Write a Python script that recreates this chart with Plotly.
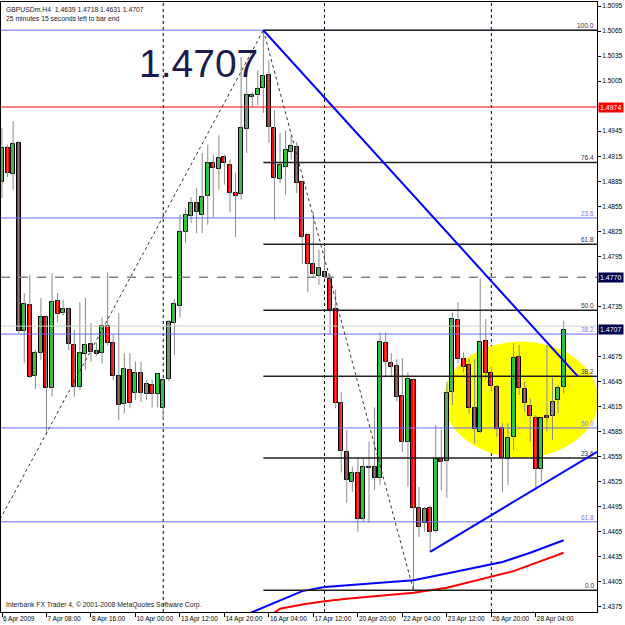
import plotly.graph_objects as go

# ---------------- data ----------------
OPEN = [1.4884, 1.4925, 1.4894, 1.4931, 1.4706, 1.4737, 1.4652, 1.4679, 1.4722, 1.4637,
        1.4742, 1.4727, 1.4732, 1.4689, 1.4639, 1.4678, 1.4690, 1.4682, 1.4679, 1.4712,
        1.4691, 1.4652, 1.4618, 1.4659, 1.4631, 1.4655, 1.4630, 1.4641, 1.4630, 1.4613,
        1.4648, 1.4715, 1.4736, 1.4824, 1.4843, 1.4859, 1.4845, 1.4867, 1.4907, 1.4900,
        1.4914, 1.4904, 1.4871, 1.4870, 1.4948, 1.4986, 1.4988, 1.4997, 1.5012, 1.4949,
        1.4888, 1.4902, 1.4920, 1.4926, 1.4884, 1.4821, 1.4786, 1.4772, 1.4776, 1.4768,
        1.4732, 1.4619, 1.4561, 1.4525, 1.4536, 1.4480, 1.4542, 1.4543, 1.4530, 1.4691,
        1.4667, 1.4664, 1.4628, 1.4573, 1.4647, 1.4494, 1.4476, 1.4494, 1.4466, 1.4552,
        1.4550, 1.4633, 1.4719, 1.4672, 1.4665, 1.4613, 1.4585, 1.4694, 1.4655, 1.4639,
        1.4589, 1.4552, 1.4579, 1.4675, 1.4636, 1.4616, 1.4602, 1.4540, 1.4604, 1.4604,
        1.4623, 1.4639]
CLOSE = [1.4925, 1.4895, 1.4930, 1.4706, 1.4738, 1.4650, 1.4679, 1.4722, 1.4637, 1.4740,
         1.4726, 1.4732, 1.4690, 1.4639, 1.4679, 1.4689, 1.4680, 1.4678, 1.4712, 1.4691,
         1.4652, 1.4617, 1.4660, 1.4619, 1.4655, 1.4631, 1.4642, 1.4630, 1.4654, 1.4647,
         1.4716, 1.4738, 1.4824, 1.4845, 1.4859, 1.4848, 1.4866, 1.4907, 1.4901, 1.4913,
         1.4907, 1.4871, 1.4867, 1.4949, 1.4988, 1.4988, 1.4996, 1.5011, 1.4950, 1.4889,
         1.4904, 1.4923, 1.4927, 1.4883, 1.4818, 1.4786, 1.4774, 1.4781, 1.4770, 1.4731,
         1.4619, 1.4562, 1.4527, 1.4536, 1.4480, 1.4543, 1.4543, 1.4530, 1.4692, 1.4669,
         1.4663, 1.4627, 1.4573, 1.4648, 1.4494, 1.4471, 1.4492, 1.4465, 1.4552, 1.4549,
         1.4631, 1.4720, 1.4672, 1.4663, 1.4613, 1.4588, 1.4692, 1.4655, 1.4640, 1.4588,
         1.4554, 1.4577, 1.4673, 1.4637, 1.4619, 1.4604, 1.4540, 1.4601, 1.4602, 1.4621,
         1.4637, 1.4707]
HIGH = [1.4949, 1.4929, 1.4957, 1.4933, 1.4751, 1.4773, 1.4683, 1.4745, 1.4725, 1.4775,
        1.4751, 1.4743, 1.4733, 1.4707, 1.4740, 1.4745, 1.4715, 1.4692, 1.4722, 1.4776,
        1.4701, 1.4727, 1.4679, 1.4679, 1.4669, 1.4669, 1.4647, 1.4647, 1.4655, 1.4649,
        1.4719, 1.4744, 1.4845, 1.4853, 1.4866, 1.4877, 1.4919, 1.4929, 1.4917, 1.4940,
        1.4917, 1.4911, 1.4895, 1.5034, 1.5018, 1.4992, 1.5018, 1.5066, 1.5030, 1.4970,
        1.4943, 1.4946, 1.4940, 1.4932, 1.4886, 1.4823, 1.4848, 1.4803, 1.4806, 1.4775,
        1.4755, 1.4633, 1.4587, 1.4543, 1.4554, 1.4554, 1.4573, 1.4614, 1.4704, 1.4704,
        1.4679, 1.4672, 1.4673, 1.4656, 1.4649, 1.4519, 1.4495, 1.4497, 1.4593, 1.4587,
        1.4645, 1.4728, 1.4740, 1.4680, 1.4673, 1.4672, 1.4769, 1.4720, 1.4663, 1.4641,
        1.4595, 1.4595, 1.4691, 1.4689, 1.4645, 1.4625, 1.4605, 1.4602, 1.4689, 1.4650,
        1.4641, 1.4718]
LOW = [1.4865, 1.4890, 1.4875, 1.4703, 1.4667, 1.4649, 1.4636, 1.4671, 1.4581, 1.4627,
       1.4716, 1.4724, 1.4683, 1.4627, 1.4635, 1.4659, 1.4669, 1.4676, 1.4667, 1.4688,
       1.4647, 1.4599, 1.4607, 1.4613, 1.4623, 1.4621, 1.4623, 1.4614, 1.4614, 1.4599,
       1.4645, 1.4677, 1.4722, 1.4811, 1.4835, 1.4823, 1.4823, 1.4833, 1.4842, 1.4875,
       1.4881, 1.4848, 1.4818, 1.4863, 1.4919, 1.4974, 1.4976, 1.4967, 1.4931, 1.4839,
       1.4883, 1.4869, 1.4911, 1.4871, 1.4786, 1.4752, 1.4769, 1.4761, 1.4767, 1.4701,
       1.4613, 1.4536, 1.4500, 1.4513, 1.4465, 1.4477, 1.4476, 1.4515, 1.4521, 1.4650,
       1.4650, 1.4621, 1.4561, 1.4519, 1.4395, 1.4459, 1.4465, 1.4441, 1.4464, 1.4515,
       1.4506, 1.4617, 1.4667, 1.4656, 1.4607, 1.4571, 1.4583, 1.4648, 1.4633, 1.4579,
       1.4513, 1.4521, 1.4563, 1.4629, 1.4609, 1.4573, 1.4515, 1.4525, 1.4585, 1.4575,
       1.4607, 1.4631]
BARS = list(range(len(OPEN)))

TIME_TICK_BARS = [0, 8, 16, 24, 32, 40, 48, 56, 64, 72, 80, 88, 96]
TIME_TICK_LABELS = ["6 Apr 2009", "7 Apr 08:00", "8 Apr 16:00", "10 Apr 00:00", "13 Apr 12:00",
                    "14 Apr 20:00", "16 Apr 04:00", "17 Apr 12:00", "20 Apr 20:00", "22 Apr 04:00",
                    "23 Apr 12:00", "26 Apr 20:00", "28 Apr 04:00"]
WEEK_SEPARATOR_BARS = [29, 58, 88]

PRICE_TICKS = [1.5095, 1.5065, 1.5035, 1.5005, 1.4975, 1.4945, 1.4915, 1.4885, 1.4855,
               1.4825, 1.4795, 1.4765, 1.4735, 1.4705, 1.4675, 1.4645, 1.4615, 1.4585,
               1.4555, 1.4525, 1.4495, 1.4465, 1.4435, 1.4405, 1.4375]
# tick labels hidden behind the price boxes on the axis
HIDDEN_TICKS = [1.4975, 1.4765, 1.4705]

# moving averages (vertices)
MA_BLUE_BARS = [44, 50, 54, 58, 67, 74, 80, 83, 90, 95, 101]
MA_BLUE_VALS = [1.4366, 1.4383, 1.4394, 1.4399, 1.4404, 1.4407, 1.4415, 1.4419, 1.4429, 1.4440, 1.4455]
MA_RED_BARS = [48, 50, 54, 58, 62, 74, 80, 92, 101]
MA_RED_VALS = [1.4364, 1.4373, 1.4378, 1.4382, 1.4385, 1.4392, 1.4398, 1.4418, 1.4440]

# Fibonacci objects
FIB_LEVELS = [0.0, 23.6, 38.2, 50.0, 61.8, 76.4, 100.0]
FIB_BLACK = dict(bar_high=47, high=1.5066, bar_low=74, low=1.4395)
FIB_BLUE_LEVELS = [23.6, 38.2, 50.0, 61.8]
FIB_BLUE = dict(bar_low=-30, low=1.4113, bar_high=47, high=1.5066)

# other objects
RED_LEVEL = 1.4974
DASHED_LEVEL = 1.4770
BID = 1.4707
TREND_UP_BARS = [47, 103.6]
TREND_UP_VALS = [1.5066, 1.4651]
TREND_LOW_BARS = [77, 107]
TREND_LOW_VALS = [1.4441, 1.4561]
ELLIPSE_BARS = [79.5, 107.2]
ELLIPSE_VALS = [1.4554, 1.4693]

XR = [-0.18, 107.0]
YR = [1.43690, 1.50998]
FONT = "Liberation Sans, Arial, sans-serif"

fig = go.Figure()

# wicks
wx, wy = [], []
for i in BARS:
    wx += [i, i, None]
    wy += [LOW[i], HIGH[i], None]
fig.add_trace(go.Scatter(x=wx, y=wy, mode="lines", line=dict(color="#8a8a8a", width=1),
                         hoverinfo="skip", showlegend=False))

# bodies
base = [min(o, c) for o, c in zip(OPEN, CLOSE)]
height = [max(abs(c - o), 0.00004) for o, c in zip(OPEN, CLOSE)]
colors = ["#22cc33" if c >= o else "#ff0000" for o, c in zip(OPEN, CLOSE)]
fig.add_trace(go.Bar(x=BARS, y=height, base=base, width=0.72,
                     marker=dict(color=colors, line=dict(color="black", width=1)),
                     showlegend=False, hoverinfo="skip"))

# moving averages
fig.add_trace(go.Scatter(x=MA_BLUE_BARS, y=MA_BLUE_VALS, mode="lines",
                         line=dict(color="#0000ff", width=2), showlegend=False, cliponaxis=True))
fig.add_trace(go.Scatter(x=MA_RED_BARS, y=MA_RED_VALS, mode="lines",
                         line=dict(color="#ff0000", width=2), showlegend=False, cliponaxis=True))

shapes = []
# yellow ellipse in background
shapes.append(dict(type="circle", xref="x", yref="y", x0=ELLIPSE_BARS[0], x1=ELLIPSE_BARS[1],
                   y0=ELLIPSE_VALS[0], y1=ELLIPSE_VALS[1], fillcolor="#ffff00",
                   line=dict(width=0), layer="below"))
# week separators
for b in WEEK_SEPARATOR_BARS:
    shapes.append(dict(type="line", xref="x", yref="paper", x0=b, x1=b, y0=0, y1=1,
                       line=dict(color="black", width=1, dash="dot"), layer="below"))

# blue fib full width lines (incl. 0 level at top)
bspan = FIB_BLUE["high"] - FIB_BLUE["low"]
for lv in [0.0] + FIB_BLUE_LEVELS:
    p = FIB_BLUE["high"] - lv / 100 * bspan
    shapes.append(dict(type="line", xref="paper", yref="y", x0=0, x1=1, y0=p, y1=p,
                       line=dict(color="#6a6af0", width=1), layer="above"))
# bid line, red line, dashed line
shapes.append(dict(type="line", xref="paper", yref="y", x0=0, x1=1, y0=BID + 0.00045, y1=BID + 0.00045,
                   line=dict(color="#c4d4c4", width=1), layer="above"))
shapes.append(dict(type="line", xref="paper", yref="y", x0=0, x1=1, y0=RED_LEVEL, y1=RED_LEVEL,
                   line=dict(color="#ff0000", width=1), layer="above"))
shapes.append(dict(type="line", xref="paper", yref="y", x0=0, x1=1, y0=DASHED_LEVEL, y1=DASHED_LEVEL,
                   line=dict(color="#808080", width=1.5, dash="dash"), layer="above"))
# black fib lines
kspan = FIB_BLACK["high"] - FIB_BLACK["low"]
for lv in FIB_LEVELS:
    p = FIB_BLACK["low"] + lv / 100 * kspan
    shapes.append(dict(type="line", xref="x", yref="y", x0=FIB_BLACK["bar_high"], x1=XR[1], y0=p, y1=p,
                       line=dict(color="#202020", width=1.5), layer="above"))
# fib trend (dotted) lines
shapes.append(dict(type="line", xref="x", yref="y", x0=FIB_BLACK["bar_high"], y0=FIB_BLACK["high"],
                   x1=FIB_BLACK["bar_low"], y1=FIB_BLACK["low"],
                   line=dict(color="#333333", width=1, dash="dot"), layer="above"))
shapes.append(dict(type="line", xref="x", yref="y", x0=FIB_BLUE["bar_low"], y0=FIB_BLUE["low"],
                   x1=FIB_BLUE["bar_high"], y1=FIB_BLUE["high"],
                   line=dict(color="#333333", width=1, dash="dot"), layer="above"))
# blue trend lines
shapes.append(dict(type="line", xref="x", yref="y", x0=TREND_UP_BARS[0], y0=TREND_UP_VALS[0],
                   x1=TREND_UP_BARS[1], y1=TREND_UP_VALS[1], line=dict(color="#0000ff", width=2),
                   layer="above"))
shapes.append(dict(type="line", xref="x", yref="y", x0=TREND_LOW_BARS[0], y0=TREND_LOW_VALS[0],
                   x1=TREND_LOW_BARS[1], y1=TREND_LOW_VALS[1], line=dict(color="#0000ff", width=2),
                   layer="above"))

ann = []
small = dict(family=FONT, size=6.5)
# fib labels
for lv in FIB_LEVELS:
    p = FIB_BLACK["low"] + lv / 100 * kspan
    ann.append(dict(xref="paper", yref="y", x=1, y=p, xanchor="right", yanchor="bottom", xshift=-1,
                    yshift=-1, text=f"{lv:.1f}", showarrow=False, font=dict(small, color="#30305a")))
for lv in FIB_BLUE_LEVELS:
    p = FIB_BLUE["high"] - lv / 100 * bspan
    ann.append(dict(xref="paper", yref="y", x=1, y=p, xanchor="right", yanchor="bottom", xshift=-1,
                    yshift=-1, text=f"{lv:.1f}", showarrow=False, font=dict(small, color="#7a7af0")))
# price boxes on axis
for val, bg in [(RED_LEVEL, "#ff0000"), (DASHED_LEVEL, "#000050"), (BID, "#000050")]:
    ann.append(dict(xref="paper", yref="y", x=1, y=val, xanchor="left", yanchor="middle", xshift=1,
                    text=f"{val:.4f}", showarrow=False, bgcolor=bg, borderpad=1,
                    font=dict(family=FONT, size=7, color="white")))
# big price text
ann.append(dict(xref="x", yref="y", x=35.3, y=1.5026, text="1.4707", showarrow=False,
                font=dict(family=FONT, size=39, color="#1c1c4c")))
# header
ann.append(dict(xref="paper", yref="paper", x=0, y=1, xanchor="left", yanchor="top", xshift=3, yshift=-2,
                align="left", showarrow=False,
                text="GBPUSDm,H4  1.4639 1.4718 1.4631 1.4707<br>25 minutes 15 seconds left to bar end",
                font=dict(family=FONT, size=6.8, color="#222222")))
# copyright
ann.append(dict(xref="paper", yref="paper", x=0, y=0, xanchor="left", yanchor="bottom", xshift=3, yshift=1,
                showarrow=False, text="Interbank FX Trader 4, © 2001-2008 MetaQuotes Software Corp.",
                font=dict(family=FONT, size=6.8, color="#222222")))

fig.update_layout(
    width=625, height=625,
    margin=dict(l=1, r=28, t=2, b=13, autoexpand=False),
    paper_bgcolor="white", plot_bgcolor="white",
    showlegend=False, barmode="overlay", bargap=0,
    shapes=shapes, annotations=ann,
    xaxis=dict(range=XR, tickvals=TIME_TICK_BARS, ticktext=TIME_TICK_LABELS,
               ticks="outside", ticklen=4, tickcolor="black", ticklabelposition="outside right",
               tickangle=0, automargin=False,
               tickfont=dict(family=FONT, size=6.5, color="black"),
               showline=True, linecolor="black", linewidth=1, mirror=True,
               showgrid=False, zeroline=False, fixedrange=True),
    yaxis=dict(range=YR, side="right", tickvals=PRICE_TICKS,
               ticktext=["" if t in HIDDEN_TICKS else f"{t:.4f}" for t in PRICE_TICKS],
               ticks="outside", ticklen=3, tickcolor="black", automargin=False,
               tickfont=dict(family=FONT, size=6.5, color="black"),
               showline=True, linecolor="black", linewidth=1, mirror=True,
               showgrid=False, zeroline=False, fixedrange=True),
)

fig.write_html("out.html")
